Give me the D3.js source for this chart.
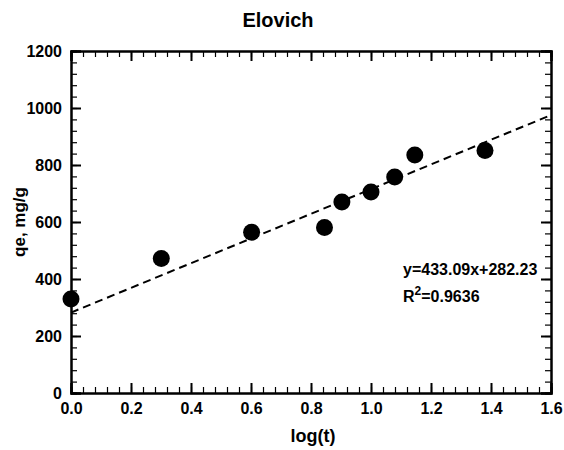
<html>
<head>
<script src="https://cdn.jsdelivr.net/npm/d3@7"></script>
<style>
  body { margin: 0; background: #fff; }
  text { font-family: "Liberation Sans", Arial, sans-serif; font-weight: bold; fill: #000; }
  .axis path, .axis line { stroke: #000; }
  .axis path { stroke-width: 2px; }
  .axis line { stroke-width: 2px; }
  .minor line { stroke-width: 1.2px; }
</style>
</head>
<body>
<div id="chart"></div>
<script>
// data: log(t) vs qe
var logT = [0.0, 0.301, 0.602, 0.845, 0.903, 1.0, 1.079, 1.146, 1.380];
var qe   = [330, 472, 564, 581, 670, 705, 758, 835, 851];

// linear fit shown on chart
var slope = 433.09, intercept = 282.23;
var eqLabel = "y=433.09x+282.23";
var r2Label = "=0.9636";

var xTicks = [0.0, 0.2, 0.4, 0.6, 0.8, 1.0, 1.2, 1.4, 1.6];
var yTicks = [0, 200, 400, 600, 800, 1000, 1200];

var W = 564, H = 450;
var margin = {top: 51, right: 13, bottom: 57, left: 71};
var width = W - margin.left - margin.right;
var height = H - margin.top - margin.bottom;

var svg = d3.select("#chart").append("svg")
  .attr("width", W).attr("height", H);

var g = svg.append("g")
  .attr("transform", "translate(" + margin.left + "," + margin.top + ")");

var x = d3.scaleLinear().domain([0, 1.6]).range([0, width]);
var y = d3.scaleLinear().domain([0, 1200]).range([height, 0]);

var xMinor = d3.range(0, 1.6001, 0.04);
var yMinor = d3.range(0, 1200.1, 40);

// minor ticks (all four sides)
g.append("g").attr("class", "axis minor").attr("transform", "translate(0," + height + ")")
  .call(d3.axisBottom(x).tickValues(xMinor).tickSize(-6).tickFormat(""));
g.append("g").attr("class", "axis minor")
  .call(d3.axisTop(x).tickValues(xMinor).tickSize(-6).tickFormat(""));
g.append("g").attr("class", "axis minor")
  .call(d3.axisLeft(y).tickValues(yMinor).tickSize(-6).tickFormat(""));
g.append("g").attr("class", "axis minor").attr("transform", "translate(" + width + ",0)")
  .call(d3.axisRight(y).tickValues(yMinor).tickSize(-6).tickFormat(""));

// major ticks
g.append("g").attr("class", "axis").attr("transform", "translate(0," + height + ")")
  .call(d3.axisBottom(x).tickValues(xTicks).tickSize(-10).tickPadding(10).tickFormat(d3.format(".1f")))
  .selectAll("text").style("font-size", "16px");
g.append("g").attr("class", "axis")
  .call(d3.axisTop(x).tickValues(xTicks).tickSize(-10).tickFormat(""));
g.append("g").attr("class", "axis")
  .call(d3.axisLeft(y).tickValues(yTicks).tickSize(-10).tickPadding(9).tickFormat(d3.format("d")))
  .selectAll("text").style("font-size", "16px");
g.append("g").attr("class", "axis").attr("transform", "translate(" + width + ",0)")
  .call(d3.axisRight(y).tickValues(yTicks).tickSize(-10).tickFormat(""));

// fit line
var line = d3.line()
  .x(function(d) { return x(d); })
  .y(function(d) { return y(slope * d + intercept); });
g.append("path").datum([0, 1.6])
  .attr("d", line)
  .style("fill", "none").style("stroke", "#000")
  .style("stroke-width", "2px").style("stroke-dasharray", "8,5");

// points
g.selectAll(".dot")
  .data(logT)
  .enter().append("circle")
  .attr("class", "dot")
  .attr("cx", function(d) { return x(d); })
  .attr("cy", function(d, i) { return y(qe[i]); })
  .attr("r", 8.5)
  .style("fill", "#000");

// title and axis names
svg.append("text").attr("x", 278).attr("y", 27)
  .attr("text-anchor", "middle").style("font-size", "20px")
  .text("Elovich");
svg.append("text").attr("x", 313).attr("y", 442)
  .attr("text-anchor", "middle").style("font-size", "18px")
  .text("log(t)");
svg.append("text").attr("transform", "translate(25," + (margin.top + height / 2) + ") rotate(-90)")
  .attr("text-anchor", "middle").style("font-size", "17px")
  .text("qe, mg/g");

// equation
svg.append("text").attr("x", 403).attr("y", 275)
  .style("font-size", "16px").text(eqLabel);
var r = svg.append("text").attr("x", 403).attr("y", 302).style("font-size", "16px");
r.append("tspan").text("R");
r.append("tspan").attr("dy", -7).style("font-size", "12px").text("2");
r.append("tspan").attr("dy", 7).text(r2Label);
</script>
</body>
</html>
